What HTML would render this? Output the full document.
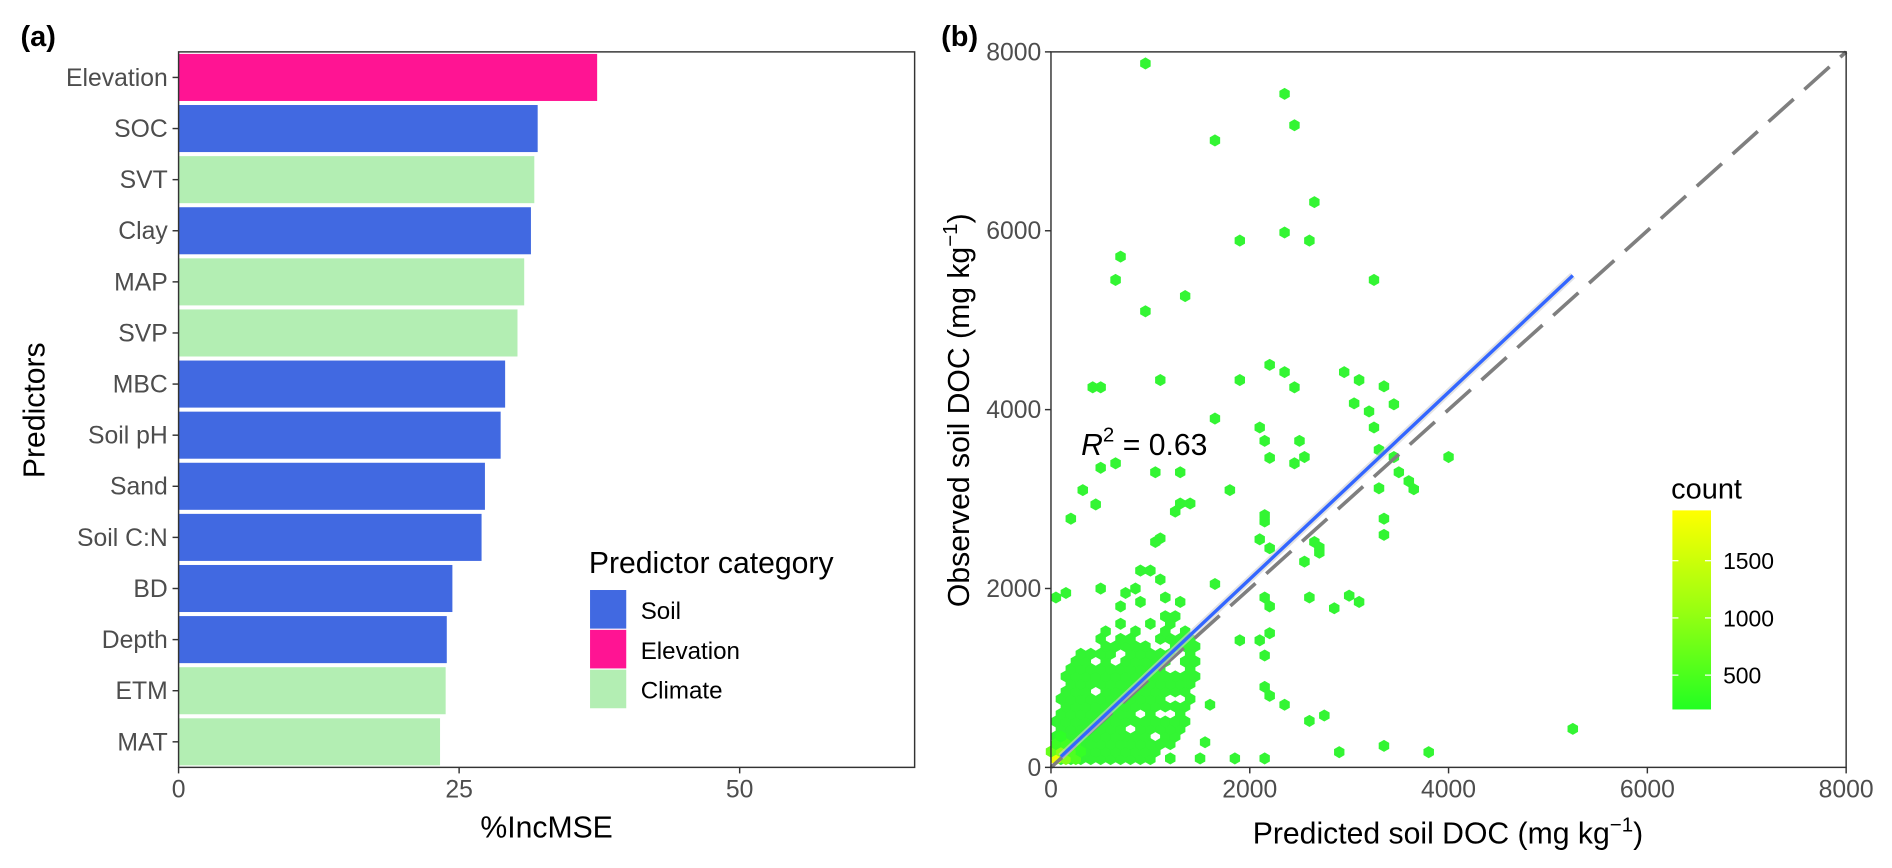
<!DOCTYPE html>
<html><head><meta charset="utf-8"><style>
html,body{margin:0;padding:0;background:#fff;}
svg{display:block;font-family:"Liberation Sans",Arial,sans-serif;}
</style></head><body>
<svg id="fig" width="1892" height="868" viewBox="0 0 1568 719.4" preserveAspectRatio="none" xmlns="http://www.w3.org/2000/svg">
<rect width="1568" height="719.4" fill="#fff"/>
<g id="pa"></g>
<g id="pb"></g>
</svg>
<script>
// ---- Panel (a) data ----
const predictors = ["Elevation","SOC","SVT","Clay","MAP","SVP","MBC","Soil pH","Sand","Soil C:N","BD","Depth","ETM","MAT"];
const incMSE = [37.3,32.0,31.7,31.4,30.8,30.2,29.1,28.7,27.3,27.0,24.4,23.9,23.8,23.3];
const category = ["Elevation","Soil","Climate","Soil","Climate","Climate","Soil","Soil","Soil","Soil","Soil","Soil","Climate","Climate"];
const xTicksA = [0,25,50];
const legendCats = ["Soil","Elevation","Climate"];
// ---- Panel (b) data ----
const ticksB = [0,2000,4000,6000,8000];
const clusterRows = [[93,40,1100],[177,40,1200],[261,40,1250],[345,40,1300],[429,60,1330],[513,60,1350],[597,80,1380],[681,80,1380],[765,100,1400],[849,100,1420],[933,140,1450],[1017,150,1470],[1101,200,1490],[1185,250,1500],[1269,300,1480],[1353,380,1450],[1437,450,1400],[1521,550,1350],[1605,650,1300],[1689,750,1250]];
const holes = [[410,1212],[410,876],[760,428],[860,615],[640,1175],[1210,1490],[1250,1137],[1030,346],[950,1473],[1110,1621],[780,1510],[540,1621],[950,1770],[600,1437],[1100,1353],[800,1689],[1000,1689],[700,1269],[1300,1269],[1350,1605],[460,1353],[1150,600],[1250,765],[1100,93],[1200,177],[650,1521],[1050,1521],[850,1605]];
const hotCells = [[50,93,1800],[150,93,900],[250,93,500],[100,177,1000],[0,177,700],[200,177,500],[300,177,300],[150,261,400],[250,261,300],[50,261,350],[100,345,250]];
const points = [[950,7870],[2350,7530],[2450,7180],[1650,7010],[2650,6320],[2350,5980],[1900,5890],[2600,5890],[700,5710],[650,5450],[3250,5450],[1350,5270],[950,5100],[2200,4500],[2350,4420],[2950,4420],[3100,4330],[3350,4260],[2450,4250],[500,4250],[420,4250],[1100,4330],[1900,4330],[3050,4070],[3200,3980],[3450,4060],[1650,3900],[2100,3800],[2150,3650],[3300,3550],[3250,3800],[2500,3650],[2450,3400],[2550,3470],[4000,3470],[3600,3200],[3650,3110],[3450,3470],[3300,3120],[3500,3300],[2200,3460],[1800,3100],[1300,2950],[1400,2950],[1050,3300],[1300,3300],[650,3400],[500,3350],[200,2780],[450,2940],[320,3100],[1250,2860],[1100,2560],[1050,2520],[2150,2750],[2150,2820],[2650,2520],[2700,2400],[2700,2460],[2550,2300],[3350,2780],[3350,2600],[2200,2450],[2100,2550],[2150,1900],[2200,1800],[2600,1900],[3000,1920],[2850,1780],[3100,1850],[1650,2050],[1000,2200],[1100,2100],[900,2200],[50,1900],[500,2000],[150,1950],[2100,1420],[2200,1500],[2150,1250],[1900,1420],[2200,800],[2350,700],[2150,900],[2750,580],[2600,520],[1600,700],[1550,280],[1200,100],[1850,100],[2150,100],[2900,170],[3350,240],[3800,170],[5250,430],[1500,100],[750,1950],[850,2000],[1150,1900],[1300,1850],[700,1800],[900,1850]];
const fitLine = [[100,120],[5250,5500]];
const countTicks = [500,1000,1500];

const NS="http://www.w3.org/2000/svg";
function mk(tag,attrs,parent,text){const e=document.createElementNS(NS,tag);for(const k in attrs)e.setAttribute(k,attrs[k]);if(text!==undefined)e.textContent=text;parent.appendChild(e);return e;}
const colors={Soil:"#4169e1",Elevation:"#ff1493",Climate:"#b3eeb3"};
const pa=document.getElementById('pa'), pb=document.getElementById('pb');

// ---- Panel A ----
const A={l:148,r:758,t:43,b:636};
const xA=v=>A.l+v*9.3;
const rowStep=(A.b-A.t)/predictors.length;
const yA=i=>A.t+rowStep*(i+0.5);
predictors.forEach((p,i)=>{
  const r=mk('rect',{x:A.l,y:yA(i)-19.5,width:xA(incMSE[i])-A.l,height:39,fill:colors[category[i]]},pa);
  
  
  mk('line',{x1:A.l-5,x2:A.l,y1:yA(i),y2:yA(i),stroke:'#333','stroke-width':1.2},pa);
  const t=mk('text',{x:A.l-9,y:yA(i)+7,'text-anchor':'end','font-size':20.5,fill:'#4d4d4d'},pa,p);
  
  
});
xTicksA.forEach(v=>{
  mk('line',{x1:xA(v),x2:xA(v),y1:A.b,y2:A.b+5,stroke:'#333','stroke-width':1.2},pa);
  const t=mk('text',{x:xA(v),y:A.b+25,'text-anchor':'middle','font-size':20.5,fill:'#4d4d4d'},pa,v);
  
  
});
mk('rect',{x:A.l,y:A.t,width:A.r-A.l,height:A.b-A.t,fill:'none',stroke:'#333','stroke-width':1.2},pa);
let t;
t=mk('text',{x:453,y:694,'text-anchor':'middle','font-size':25},pa,'%IncMSE');

t=mk('text',{x:0,y:0,'text-anchor':'middle','font-size':25,transform:'translate(37,340) rotate(-90)'},pa,'Predictors');

t=mk('text',{x:17,y:38,'font-size':24,'font-weight':'bold'},pa,'(a)');

const lg=mk('g',{},pa);

mk('text',{x:488,y:475,'font-size':25},lg,'Predictor category');
legendCats.forEach((c,i)=>{
  const k=mk('rect',{x:489,y:489+i*33,width:30,height:32,fill:colors[c]},lg);
  
  
  mk('text',{x:531,y:513+i*33,'font-size':20},lg,c);
});

// ---- Panel B ----
const B={l:871,r:1530,t:43,b:636};
const xB=v=>B.l+v*(B.r-B.l)/8000;
const yB=v=>B.b-v*(B.b-B.t)/8000;
function hexPath(cx,cy){const rx=5.0,ry=5.0;let d='';for(let k=0;k<6;k++){const a=Math.PI/180*(60*k+30);d+=(k?'L':'M')+(cx+rx*Math.cos(a)).toFixed(1)+','+(cy+ry*Math.sin(a)).toFixed(1);}return d+'Z';}
function cColor(c){const f=Math.max(0,Math.min(1,(c-200)/1700));const r=Math.round(40+215*f),g=255,b=Math.round(40*(1-f));return `rgb(${r},${g},${b})`;}
const baseCol='#33f533';
const hg=mk('g',{},pb);
function isHole(x,y){return holes.some(h=>Math.abs(h[0]-x)<60&&Math.abs(h[1]-y)<50);}
clusterRows.forEach((row,ri)=>{
  const off=(ri%2)?50:0;
  for(let x=row[1]-((row[1]-off)%100+100)%100;x<=row[2];x+=100){
    if(x<row[1]-20)continue;
    if(isHole(x,row[0]))continue;
    mk('path',{d:hexPath(xB(x),yB(row[0])),fill:baseCol},hg);
  }
});
hotCells.forEach(h=>{mk('path',{d:hexPath(xB(h[0]),yB(h[1])),fill:cColor(h[2])},hg);});
points.forEach(p=>{
  mk('path',{d:hexPath(xB(p[0]),yB(p[1])),fill:baseCol},hg);
});
t=mk('line',{x1:xB(0),y1:yB(0),x2:xB(8000),y2:yB(8000),stroke:'#7f7f7f','stroke-width':3,'stroke-dasharray':'28 12'},pb);

mk('line',{x1:xB(fitLine[0][0]),y1:yB(fitLine[0][1]),x2:xB(fitLine[1][0]),y2:yB(fitLine[1][1]),stroke:'#d0d0d0','stroke-width':6,'stroke-opacity':0.6},pb);
t=mk('line',{x1:xB(fitLine[0][0]),y1:yB(fitLine[0][1]),x2:xB(fitLine[1][0]),y2:yB(fitLine[1][1]),stroke:'#3366ff','stroke-width':2.8},pb);

ticksB.forEach(v=>{
  mk('line',{x1:xB(v),x2:xB(v),y1:B.b,y2:B.b+5,stroke:'#333','stroke-width':1.2},pb);
  t=mk('text',{x:xB(v),y:B.b+25,'text-anchor':'middle','font-size':20.5,fill:'#4d4d4d'},pb,v);
  
  mk('line',{x1:B.l-5,x2:B.l,y1:yB(v),y2:yB(v),stroke:'#333','stroke-width':1.2},pb);
  t=mk('text',{x:B.l-8,y:yB(v)+7,'text-anchor':'end','font-size':20.5,fill:'#4d4d4d'},pb,v);
  
});
mk('rect',{x:B.l,y:B.t,width:B.r-B.l,height:B.b-B.t,fill:'none',stroke:'#333','stroke-width':1.2},pb);
t=mk('text',{x:1200,y:699,'text-anchor':'middle','font-size':25},pb);
t.innerHTML='Predicted soil DOC (mg kg<tspan dy="-10" font-size="17">−1</tspan><tspan dy="10">)</tspan>';

t=mk('text',{x:0,y:0,'text-anchor':'middle','font-size':25,transform:'translate(803,340) rotate(-90)'},pb);
t.innerHTML='Observed soil DOC (mg kg<tspan dy="-10" font-size="17">−1</tspan><tspan dy="10">)</tspan>';

t=mk('text',{x:780,y:38,'font-size':24,'font-weight':'bold'},pb,'(b)');

t=mk('text',{x:896,y:377,'font-size':25},pb);
t.innerHTML='<tspan font-style="italic">R</tspan><tspan dy="-11" font-size="17">2</tspan><tspan dy="11"> = 0.63</tspan>';

const cb=mk('g',{},pb);
const defs=mk('defs',{},cb);
const gr=mk('linearGradient',{id:'cg',x1:0,y1:1,x2:0,y2:0},defs);
mk('stop',{offset:0,'stop-color':'#22ff22'},gr);
mk('stop',{offset:0.5,'stop-color':'#99ff11'},gr);
mk('stop',{offset:1,'stop-color':'#ffff00'},gr);
const cTop=423,cBot=588,cMin=200,cMax=1940;
const yC=v=>cBot-(v-cMin)/(cMax-cMin)*(cBot-cTop);
mk('rect',{x:1386,y:cTop,width:32,height:cBot-cTop,fill:'url(#cg)'},cb);
mk('text',{x:1385,y:413,'font-size':24},cb,'count');
countTicks.forEach(v=>{
  mk('line',{x1:1386,x2:1391,y1:yC(v),y2:yC(v),stroke:'#fff','stroke-width':1},cb);
  mk('line',{x1:1413,x2:1418,y1:yC(v),y2:yC(v),stroke:'#fff','stroke-width':1},cb);
  mk('text',{x:1428,y:yC(v)+7,'font-size':19},cb,v);
});
</script>
</body></html>
